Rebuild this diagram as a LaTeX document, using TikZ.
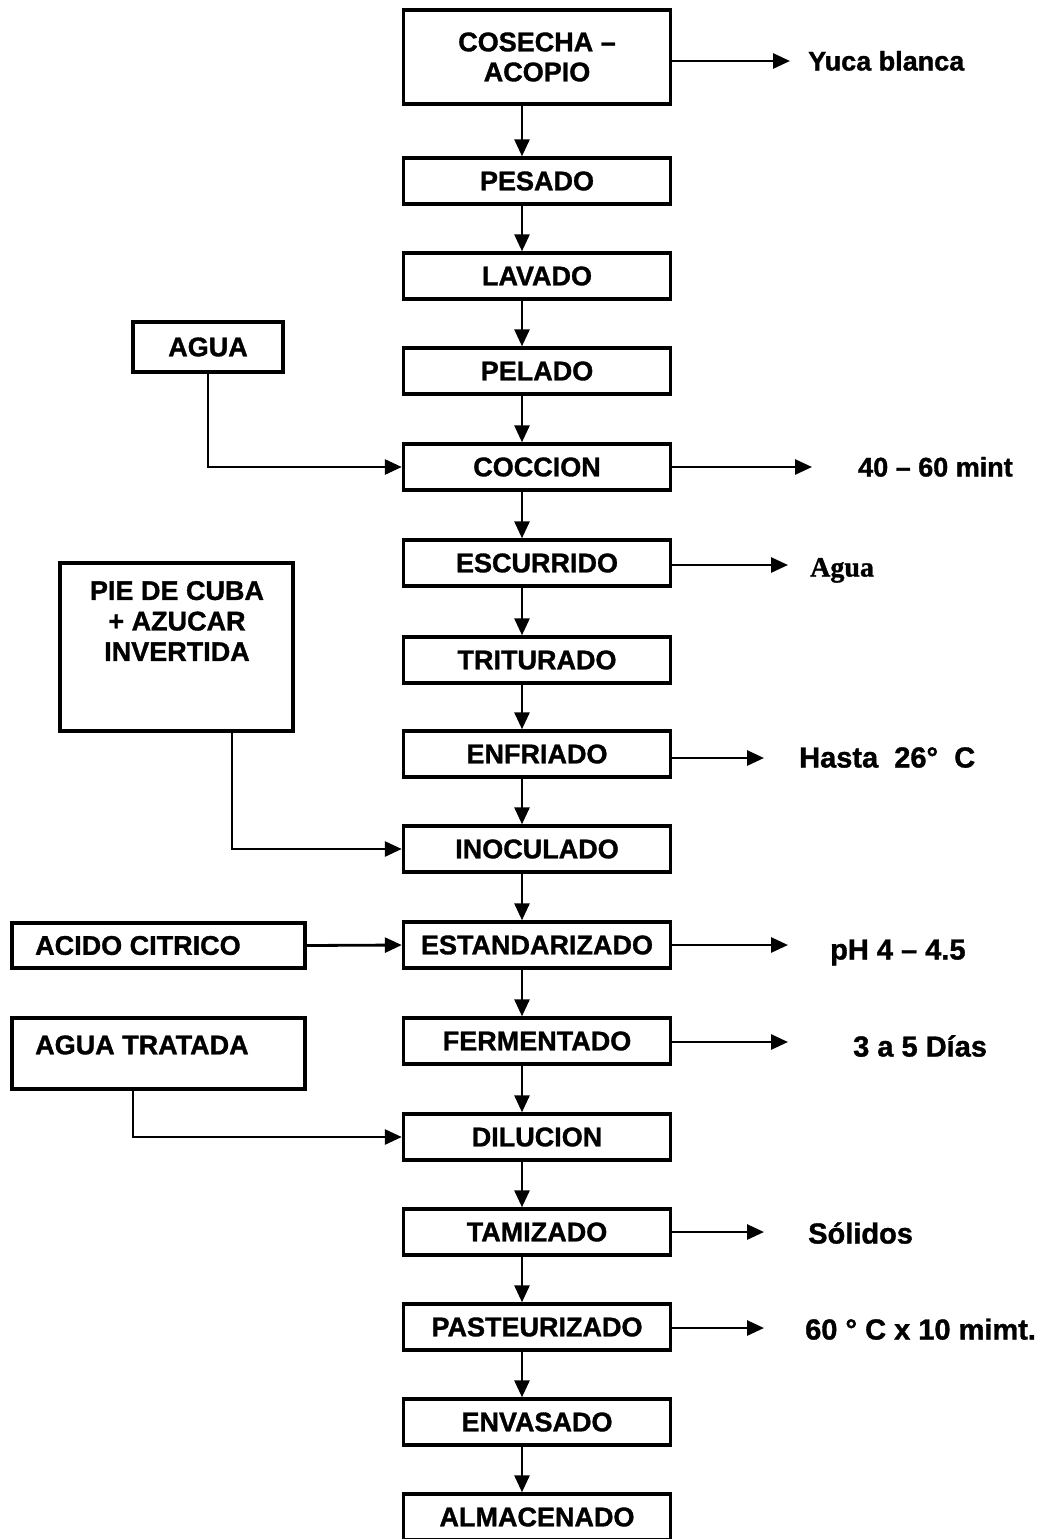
\documentclass[tikz,border=0pt]{standalone}
\usepackage{fontspec}
\setmainfont{Liberation Sans}[BoldFeatures={FakeBold=1.2}]
\newfontfamily\serifbold{Liberation Serif}[BoldFeatures={FakeBold=1.2}]
\usetikzlibrary{arrows.meta}
\begin{document}
\begin{tikzpicture}[x=1pt,y=-1pt,
  box/.style={draw,line width=3.4pt,minimum width=267pt,minimum height=46pt,inner sep=0pt,
    font=\fontsize{27}{30}\selectfont\bfseries,align=center},
  sidebox/.style={draw,line width=3.4pt,inner sep=0pt},
  txt/.style={inner sep=0pt,font=\fontsize{27}{30.5}\selectfont\bfseries},
  flow/.style={line width=2.8pt,-{Triangle[length=17pt,width=15pt]}},
  lbl/.style={anchor=base west,inner sep=0pt,font=\fontsize{29}{30}\selectfont\bfseries},
]
\useasboundingbox (0,0) rectangle (1046,1539);
\fill[white] (0,0) rectangle (1046,1539);

% main column
\node[box,minimum height=94pt] (cos) at (537,57) {COSECHA –\\ACOPIO};
\node[box] (pes) at (537,181) {PESADO};
\node[box] (lav) at (537,276) {LAVADO};
\node[box] (pel) at (537,371) {PELADO};
\node[box] (coc) at (537,467) {COCCION};
\node[box] (esc) at (537,563) {ESCURRIDO};
\node[box] (tri) at (537,660) {TRITURADO};
\node[box] (enf) at (537,754) {ENFRIADO};
\node[box] (ino) at (537,849) {\raisebox{-5pt}{INOCULADO}};
\node[box] (est) at (537,945) {ESTANDARIZADO};
\node[box] (fer) at (537,1041) {FERMENTADO};
\node[box] (dil) at (537,1137) {DILUCION};
\node[box] (tam) at (537,1232) {TAMIZADO};
\node[box] (pas) at (537,1327) {PASTEURIZADO};
\node[box] (env) at (537,1422) {ENVASADO};
\node[box] (alm) at (537,1517) {ALMACENADO};

\coordinate (spine) at (522,0);
\foreach \a/\b in {cos/pes,pes/lav,lav/pel,pel/coc,coc/esc,esc/tri,tri/enf,enf/ino,
                   ino/est,est/fer,fer/dil,dil/tam,tam/pas,pas/env,env/alm}
  \draw[flow] (\a.south -| spine) -- (\b.north -| spine);

% left inputs
\node[sidebox,minimum width=150pt,minimum height=50pt,font=\fontsize{27}{30}\selectfont\bfseries] (agua) at (208,347) {AGUA};
\draw[flow] (agua.south) |- (coc.west);

\node[sidebox,minimum width=233pt,minimum height=168pt] (pie) at (176.5,647) {};
\node[txt,align=center] (pietxt) at (177,621) {PIE DE CUBA\\+ AZUCAR\\INVERTIDA};
\coordinate (piex) at (232,0);
\draw[flow] (pie.south -| piex) |- (ino.west);

\node[sidebox,minimum width=293pt,minimum height=45pt] (acido) at (158.5,945.5) {};
\node[txt,anchor=west] (acidotxt) at (35,945.5) {ACIDO CITRICO};
\draw[flow] (acido.east) -- (est.west);

\node[sidebox,minimum width=293pt,minimum height=71pt] (atr) at (158.5,1053.5) {};
\node[txt,anchor=west] (atrtxt) at (35,1045) {AGUA TRATADA};
\coordinate (atrx) at (133,0);
\draw[flow] (atr.south -| atrx) |- (dil.west);

% right outputs
\coordinate (t1) at (790,61);
\coordinate (t2) at (812,467);
\coordinate (t3) at (788,565);
\coordinate (t4) at (764,758);
\coordinate (t5) at (788,945);
\coordinate (t6) at (788,1042);
\coordinate (t7) at (764,1232);
\coordinate (t8) at (764,1328);
\draw[flow] (cos.east |- t1) -- (t1);
\draw[flow] (coc.east |- t2) -- (t2);
\draw[flow] (esc.east |- t3) -- (t3);
\draw[flow] (enf.east |- t4) -- (t4);
\draw[flow] (est.east |- t5) -- (t5);
\draw[flow] (fer.east |- t6) -- (t6);
\draw[flow] (tam.east |- t7) -- (t7);
\draw[flow] (pas.east |- t8) -- (t8);

\node[lbl,font=\fontsize{27}{30}\selectfont\bfseries] (l1) at (808,70.5) {Yuca blanca};
\node[lbl,font=\fontsize{27}{30}\selectfont\bfseries] (l2) at (858,476.5) {40 – 60 mint};
\node[lbl,font=\fontsize{28}{30}\selectfont\serifbold\bfseries] (l3) at (810,576.5) {Agua};
\node[lbl] (l4) at (799,767.5) {Hasta\ \ 26°\ \ C};
\node[lbl] (l5) at (830,959.5) {pH 4 – 4.5};
\node[lbl] (l6) at (853,1056.5) {3 a 5 Días};
\node[lbl] (l7) at (808,1243.5) {Sólidos};
\node[lbl] (l8) at (805,1339.5) {60 ° C x 10 mimt.};
\end{tikzpicture}
\end{document}
